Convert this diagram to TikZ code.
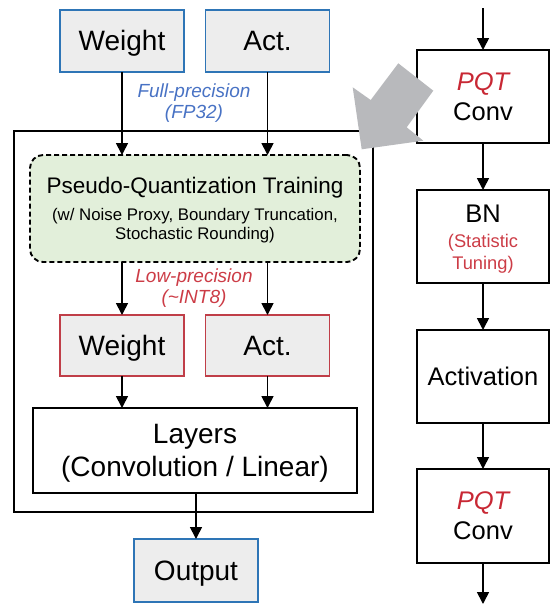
\documentclass[tikz,border=0pt]{standalone}
\usepackage{fontspec}
\setmainfont{Liberation Sans}
\usetikzlibrary{arrows.meta}

\definecolor{boxblue}{RGB}{46,117,182}
\definecolor{boxred}{RGB}{192,62,72}
\definecolor{txtred}{RGB}{200,40,52}
\definecolor{lblblue}{RGB}{72,114,196}
\definecolor{lblred}{RGB}{204,60,70}
\definecolor{boxfill}{RGB}{237,237,237}
\definecolor{ptqfill}{RGB}{226,239,218}
\definecolor{bigarrow}{RGB}{184,185,188}

% ascent / descent struts so text sits like in a slide text frame
\newcommand{\asc}{\rule{0pt}{0.905em}}
\newcommand{\dsc}{\rule[-0.212em]{0pt}{0pt}}
\newcommand{\fs}[2]{\fontsize{#1}{#2}\selectfont}

\begin{document}
\begin{tikzpicture}[x=1pt,y=-1pt,
  every node/.style={inner sep=0pt, outer sep=0pt},
  tensor/.style={draw=boxblue, fill=boxfill, line width=1.9pt,
    minimum width=124pt, minimum height=62pt, font=\fs{28}{33}},
  qtensor/.style={tensor, draw=boxred},
  plain/.style={draw=black, line width=1.9pt, align=center},
  layer/.style={plain, minimum width=132pt, minimum height=93pt, font=\fs{25.5}{30}},
  flow/.style={line width=1.7pt, -{Triangle[width=12pt,length=12pt]}},
  note/.style={align=center, font=\fs{19}{21}\itshape}
]
\useasboundingbox (0,0) rectangle (554,606);

% ---------- left: training pipeline ----------
\node[plain, minimum width=359pt, minimum height=381pt] (frame) at (193.5,321.5) {};

\node[tensor] (wfp) at (122,41) {\asc\dsc Weight};
\node[tensor] (afp) at (267.5,41) {\asc\dsc Act.};
\node[note, text=lblblue] (fp) at (194,101) {\asc Full-precision\\(FP32)\dsc};

\node[draw=black, fill=ptqfill, line width=1.9pt, dash pattern=on 5pt off 3pt,
      rounded corners=13pt, minimum width=330pt, minimum height=107pt,
      align=center, font=\fs{16.8}{19}] (ptq) at (195,208.5)
  {{\fs{22.5}{27}\asc Pseudo-Quantization Training}\\[8pt]
   (w/ Noise Proxy, Boundary Truncation,\\
   Stochastic Rounding)\dsc};

\node[note, text=lblred] (lp) at (194,286) {\asc Low-precision\\(\textasciitilde INT8)\dsc};

\node[qtensor, minimum height=61pt] (wq) at (122,345.5) {\asc\dsc Weight};
\node[qtensor, minimum height=61pt] (aq) at (267.5,345.5) {\asc\dsc Act.};

\node[plain, minimum width=324pt, minimum height=85pt, font=\fs{28}{33}] (layers) at (195,450.5)
  {\asc Layers\\(Convolution / Linear)\dsc};

\node[tensor, minimum height=63pt] (out) at (196,570.5) {\asc\dsc Output};

\draw[flow] (wfp.south) -- (wfp.south |- ptq.north);
\draw[flow] (afp.south) -- (afp.south |- ptq.north);
\draw[flow] (wfp.south |- ptq.south) -- (wq.north);
\draw[flow] (afp.south |- ptq.south) -- (aq.north);
\draw[flow] (wq.south) -- (wq.south |- layers.north);
\draw[flow] (aq.south) -- (aq.south |- layers.north);
\draw[flow] (layers.south -| out.north) -- (out.north);

% ---------- right: network layers ----------
\coordinate (top) at (483,8);
\coordinate (bottom) at (483,604);
\node[layer] (conv1) at (483,96.5) {\asc{\color{txtred}\itshape PQT}\\Conv\dsc};
\node[layer] (bn) at (483,236.5) [font=\fs{18.3}{22}, text=lblred]
  {{\color{black}\fs{25.5}{30}\asc BN}\\[3pt](Statistic\\Tuning)\dsc};
\node[layer] (actv) at (483,376.5) {\asc\dsc Activation};
\node[layer, minimum height=94pt] (conv2) at (483,516) {\asc{\color{txtred}\itshape PQT}\\Conv\dsc};

\draw[flow] (top) -- (conv1.north);
\draw[flow] (conv1) -- (bn);
\draw[flow] (bn) -- (actv);
\draw[flow] (actv) -- (conv2);
\draw[flow] (conv2.south) -- (bottom);

% ---------- zoom-in arrow from the PQT conv to the pipeline ----------
\fill[bigarrow] (398.3,63.3) -- (433.3,90.7) -- (406.7,127.3) -- (423.3,140.7)
  -- (361.7,149.3) -- (352.7,87.3) -- (370.7,100) -- cycle;
\end{tikzpicture}
\end{document}
